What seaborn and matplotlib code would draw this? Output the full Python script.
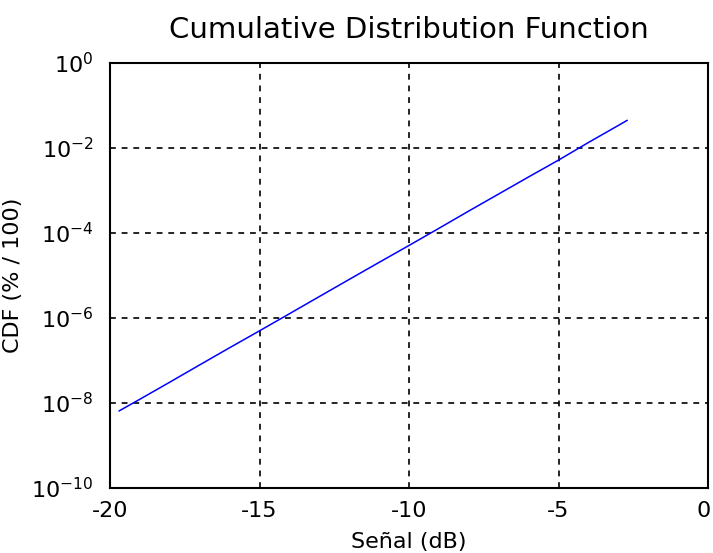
import matplotlib
matplotlib.use("Agg")
import matplotlib.pyplot as plt
import matplotlib.transforms as mtransforms
import seaborn as sns
import pandas as pd
from matplotlib.ticker import LogFormatterSciNotation, NullLocator

# Signal level (dB) and cumulative probability
signal_db = [-19.7, -19, -18, -17, -16, -15, -14, -13, -12, -11, -10,
             -9, -8, -7, -6, -5, -4, -3, -2.7]
cdf = [6.5e-9, 1.23e-8, 3.1e-8, 7.9e-8, 2.0e-7, 5.0e-7, 1.26e-6, 3.2e-6,
       8.1e-6, 2.04e-5, 5.1e-5, 1.29e-4, 3.3e-4, 8.3e-4, 2.09e-3, 5.2e-3,
       1.35e-2, 3.4e-2, 4.5e-2]

x_ticks = [-20, -15, -10, -5, 0]
y_ticks = [1e-10, 1e-8, 1e-6, 1e-4, 1e-2, 1e0]

df = pd.DataFrame({"signal": signal_db, "cdf": cdf})

sns.set_style("white")
plt.rcParams["font.family"] = ["DejaVu Sans"]
plt.rcParams["mathtext.fontset"] = "dejavusans"

fig = plt.figure(figsize=(7.13, 5.53), dpi=100)
ax = fig.add_axes([0.1543, 0.1175, 0.8387, 0.7685])

sns.lineplot(data=df, x="signal", y="cdf", ax=ax, color="#0000ff",
             linewidth=1.1, estimator=None)

ax.set_yscale("log")
ax.set_xlim(-20, 0)
ax.set_ylim(1e-10, 1e0)
ax.set_xticks(x_ticks)
ax.set_xticklabels([str(t) for t in x_ticks])
ax.set_yticks(y_ticks)
ax.yaxis.set_major_formatter(LogFormatterSciNotation())
ax.yaxis.set_minor_locator(NullLocator())

ax.grid(True, which="major", color="black", linestyle=(0, (3.5, 3.5)), linewidth=1.2)
for s in ax.spines.values():
    s.set_color("black")
    s.set_linewidth(1.5)
ax.tick_params(axis="x", which="major", length=0, labelsize=16,
               colors="black", pad=9)
ax.tick_params(axis="y", which="major", length=0, labelsize=16,
               colors="black", pad=12)

# keep the rightmost x label inside the figure edge
last = ax.get_xticklabels()[-1]
last.set_transform(last.get_transform() +
                   mtransforms.ScaledTranslation(-4 / 100, 0, fig.dpi_scale_trans))

ax.set_xlabel("Señal (dB)", fontsize=16, color="black", labelpad=8)
ax.set_ylabel("CDF (% / 100)", fontsize=16, color="black", labelpad=6)
ax.set_title("Cumulative Distribution Function", fontsize=21, color="black", pad=18)

fig.savefig("out.png", dpi=100)
